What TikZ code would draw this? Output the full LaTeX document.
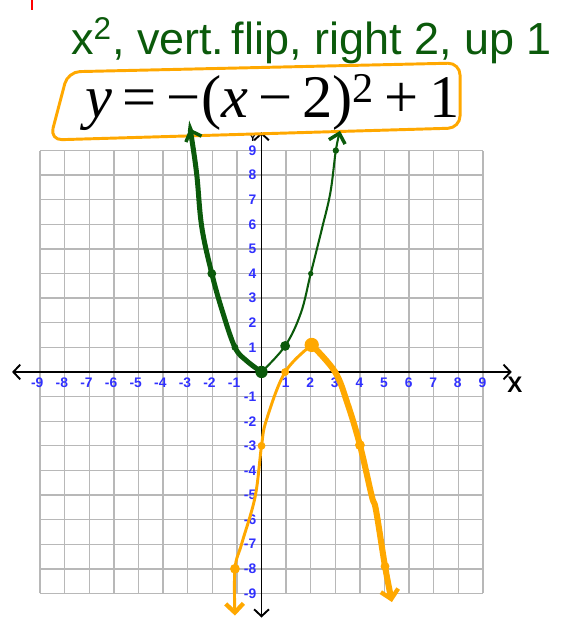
\documentclass[tikz,border=0pt]{standalone}
\usepackage{fontspec}
\usepackage{tikz}
\usetikzlibrary{arrows.meta,positioning,calc}
\newfontfamily\eqfont{Liberation Serif}
\newfontfamily\tickfont{Liberation Sans}
\definecolor{penGreen}{HTML}{0B5A0B}
\definecolor{penOrange}{HTML}{FFA800}
\definecolor{tickBlue}{HTML}{3030FF}
\definecolor{gridGray}{HTML}{B8B8B8}
\tikzset{
  gridline/.style={draw=gridGray, line width=0.8pt},
  axis/.style={draw=black, line width=1.1pt, {Straight Barb[length=1.4mm,width=3mm]}-{Straight Barb[length=1.4mm,width=3mm]}},
  tick/.style={font=\tickfont\bfseries\fontsize{8}{8}\selectfont, text=tickBlue, inner sep=0pt},
  greenthin/.style={draw=penGreen, line width=1.2pt, line cap=round, -{Straight Barb[length=1.8mm,width=3.4mm,line width=2pt]}},
  greenthick/.style={draw=penGreen, line width=2.9pt, line cap=round, -{Straight Barb[length=1.8mm,width=3.4mm,line width=2pt]}},
  orangethin/.style={draw=penOrange, line width=1.7pt, line cap=round, -{Straight Barb[length=1.8mm,width=3.6mm,line width=2.5pt]}},
  orangethick/.style={draw=penOrange, line width=3.5pt, line cap=round, -{Straight Barb[length=1.8mm,width=3.6mm,line width=2.5pt]}},
  gdot/.style={circle, fill=penGreen, inner sep=0pt, minimum size=#1},
  odot/.style={circle, fill=penOrange, inner sep=0pt, minimum size=#1},
  note/.style={font=\tickfont\fontsize{26}{28}\selectfont, text=penGreen, inner sep=0pt}
}
\begin{document}
\begin{tikzpicture}[x=0.5cm, y=0.5cm]
  \useasboundingbox (-10.63,-10.04) rectangle (13.03,15.12);
  \foreach \i in {-9,...,9} {
    \draw[gridline] (\i,-9) -- (\i,9);
    \draw[gridline] (-9,\i) -- (9,\i);
  }
  \coordinate (xneg) at (-10.14,0);
  \coordinate (xpos) at (10.17,0);
  \coordinate (ytop) at (0,9.75);
  \coordinate (ybot) at (0,-9.98);
  \draw[axis] (xneg) -- (xpos);
  \draw[axis] (ybot) -- (ytop);
  \node[font=\tickfont\bfseries\fontsize{13}{13}\selectfont, inner sep=0pt] (xlab) at (10.3,-0.5) {X};
  \node[font=\tickfont\bfseries\fontsize{6}{6}\selectfont, inner sep=0pt] (ylab) at (-0.35,9.5) {Y};
  \foreach \i in {-9,...,-1,1,2,...,9} {
    \node[tick, anchor=east] (xt\i) at (\i+0.15,-0.45) {\i};
    \node[tick, anchor=east] (yt\i) at (-0.2,\i) {\i};
  }
  \draw[red, line width=1.7pt] (-9.33,15.12) -- (-9.33,14.7);
  \node[note, anchor=base west] (steps) at (-7.75,12.9) {x\textsuperscript{2}, vert.\,flip, right 2, up 1};
  \node[font=\eqfont\fontsize{35}{36}\selectfont, inner sep=0pt, anchor=base] (eqn) at (0.45,10.33)
    {\textit{y}\,=\,−(\textit{x}\,−\,2)\textsuperscript{2}\,+\,1};
  \draw[penOrange, line width=1.7pt, rounded corners=7pt] (-7.87,12.2) -- (8.07,12.56) -- (8.07,9.92) -- (-8.6,9.43) -- cycle;
  \draw[orangethin] plot[smooth, tension=0.6] coordinates {(2.04,1.1) (0.96,0) (0.2,-1.95) (0,-3) (-0.26,-5.07) (-0.8,-6.96) (-1.08,-8) (-1.08,-9.9)};
  \draw[orangethick] plot[smooth, tension=0.6] coordinates {(2.04,1.1) (2.99,0) (3.5,-1.3) (4,-2.97) (4.48,-5.04) (4.65,-5.6) (5.02,-7.9) (5.3,-9.35)};
  \draw[greenthick] plot[smooth, tension=0.6] coordinates {(0,0) (-0.6,0.45) (-1.08,1) (-1.6,2.5) (-2.02,4) (-2.43,5.9) (-2.63,8) (-2.84,9.5) (-2.92,9.9)};
  \draw[greenthin] plot[smooth, tension=0.6] coordinates {(0,0) (0.96,1.06) (1.6,2.4) (2.0,4) (2.45,5.8) (2.8,7.3) (3.02,9) (3.19,9.8)};
  \node[odot=2.9mm] (vtx) at (2.04,1.1) {};
  \node[odot=1.6mm] (o1) at (0.96,0) {};
  \node[odot=1.2mm] (o3) at (3,0) {};
  \node[odot=1.6mm] (o0) at (0,-3) {};
  \node[odot=2mm] (o4) at (4,-2.97) {};
  \node[odot=2mm] (om1) at (-1.08,-8) {};
  \node[odot=1.8mm] (o5) at (5.02,-7.9) {};
  \node[gdot=2.5mm] (g0) at (0,0) {};
  \node[gdot=2mm] (g1) at (0.96,1.06) {};
  \node[gdot=1.4mm] (gm1) at (-1.08,1) {};
  \node[gdot=1.8mm] (gm2) at (-2.02,4) {};
  \node[gdot=1.1mm] (g2) at (2,4) {};
  \node[gdot=1.3mm] (g3) at (3.02,9) {};
\end{tikzpicture}
\end{document}
